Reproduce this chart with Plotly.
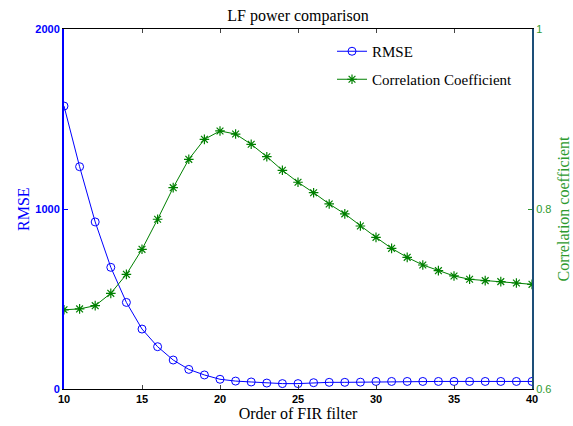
import plotly.graph_objects as go

order = list(range(10, 41))
rmse = [1572, 1235, 928, 676, 481, 333, 235, 161, 109, 78, 54, 44, 39, 33, 30, 30,
        35, 37, 37, 38, 42, 42, 42, 42, 42, 42, 42, 42, 42, 42, 42]
corr = [0.688, 0.689, 0.6926, 0.7063, 0.7274, 0.7552, 0.7886, 0.8237, 0.8552, 0.8774,
        0.8867, 0.8833, 0.8719, 0.8581, 0.843, 0.8297, 0.8181, 0.8056, 0.7946, 0.7811,
        0.7685, 0.7563, 0.7463, 0.7378, 0.7315, 0.7256, 0.7219, 0.7204, 0.7193, 0.7178,
        0.7163]
x_ticks = [10, 15, 20, 25, 30, 35, 40]
left_ticks = [0, 1000, 2000]
right_ticks = [0.6, 0.8, 1.0]
right_labels = ["0.6", "0.8", "1"]

BLUE = "#0000ff"
GREEN = "#008000"
GREEN_TXT = "#2e9a2e"
SERIF = "Liberation Serif, Times New Roman, serif"
SANS = "Liberation Sans, Arial, sans-serif"

fig = go.Figure()
fig.add_trace(go.Scatter(
    x=order, y=rmse, name="RMSE", mode="lines+markers",
    line=dict(color=BLUE, width=1),
    marker=dict(symbol="circle-open", size=8, color=BLUE, line=dict(width=1, color=BLUE)),
    legend="legend", showlegend=True,
))
fig.add_trace(go.Scatter(
    x=order, y=corr, name="Correlation Coefficient", mode="lines+markers", yaxis="y2",
    line=dict(color=GREEN, width=1),
    marker=dict(symbol="asterisk-open", size=8, color=GREEN, line=dict(width=1.2, color=GREEN)),
    legend="legend2", showlegend=True,
))

L = 64
W = 573 - 64 - 41
T = 29
H = 426 - 29 - 37

fig.update_layout(
    width=573, height=426,
    margin=dict(l=L, r=41, t=T, b=37),
    paper_bgcolor="white", plot_bgcolor="white",
    showlegend=True,
    title=dict(text="LF power comparison", x=0.5, xref="paper", xanchor="center",
               y=1 - 15 / 426, yanchor="middle",
               font=dict(family=SERIF, size=16, color="black")),
    xaxis=dict(
        range=[10, 40], tickvals=x_ticks, ticks="inside", ticklen=4,
        showline=True, linecolor="black", linewidth=1, mirror="ticks",
        showgrid=False, zeroline=False, automargin=False,
        tickfont=dict(family=SANS, size=11, color="black", weight="bold"),
        title=dict(text="Order of FIR filter", standoff=3,
                   font=dict(family=SERIF, size=16, color="black")),
    ),
    yaxis=dict(
        range=[0, 2000], tickvals=left_ticks, ticks="inside", ticklen=4,
        tickcolor=BLUE, showline=True, linecolor=BLUE, linewidth=2,
        showgrid=False, zeroline=False, automargin=False,
        tickfont=dict(family=SANS, size=11, color=BLUE, weight="bold"),
    ),
    yaxis2=dict(
        range=[0.6, 1.0], tickvals=right_ticks, ticktext=right_labels,
        overlaying="y", side="right", anchor="x",
        ticks="inside", ticklen=4, tickcolor=GREEN_TXT,
        showline=True, linecolor="#1d4f78", linewidth=2,
        showgrid=False, zeroline=False, automargin=False,
        tickfont=dict(family=SANS, size=11, color=GREEN_TXT),
        title=dict(text="Correlation coefficient", standoff=7,
                   font=dict(family=SERIF, size=16, color=GREEN_TXT)),
    ),
    legend=dict(
        x=(332 - L) / W, y=1 - (35 - T) / H, xanchor="left", yanchor="top",
        bgcolor="rgba(0,0,0,0)", borderwidth=0,
        font=dict(family=SERIF, size=15, color="black"),
    ),
    legend2=dict(
        x=(332 - L) / W, y=1 - (63 - T) / H, xanchor="left", yanchor="top",
        bgcolor="rgba(0,0,0,0)", borderwidth=0,
        font=dict(family=SERIF, size=15, color="black"),
    ),
    annotations=[dict(
        text="RMSE", textangle=-90, showarrow=False,
        xref="paper", yref="paper", x=(23 - L) / W, y=0.5,
        xanchor="center", yanchor="middle",
        font=dict(family=SERIF, size=16, color=BLUE),
    )],
)

fig.write_html("out.html")
